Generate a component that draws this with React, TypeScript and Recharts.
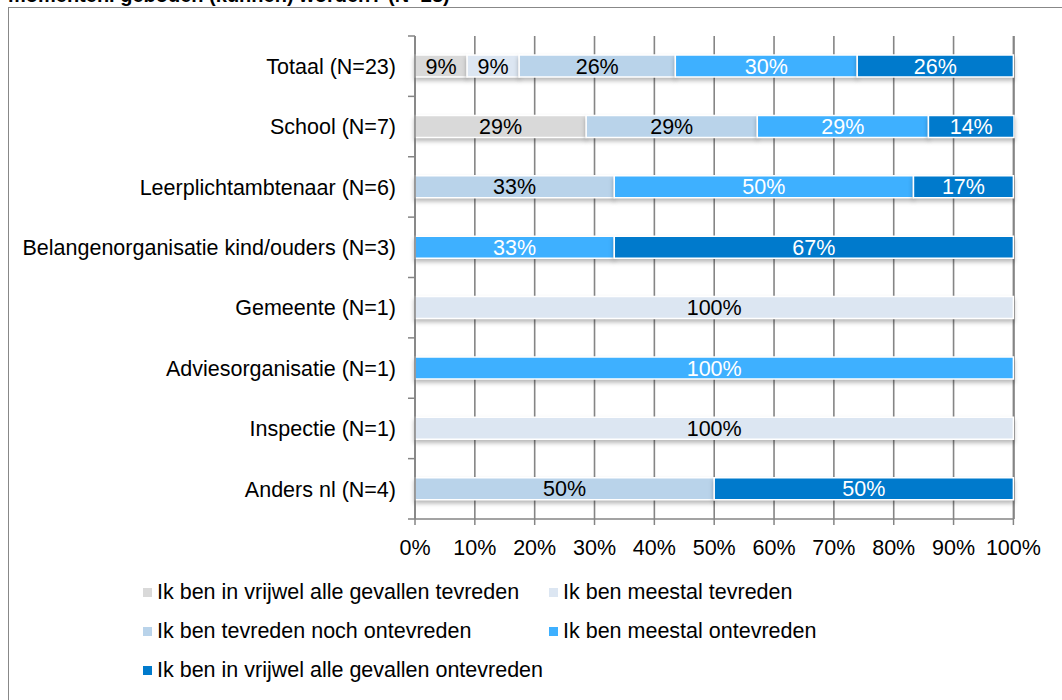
import React from "react";
import {
  BarChart,
  Bar,
  XAxis,
  YAxis,
  CartesianGrid,
  LabelList,
  Rectangle,
} from "recharts";

const categories = [
  "Totaal (N=23)",
  "School (N=7)",
  "Leerplichtambtenaar (N=6)",
  "Belangenorganisatie kind/ouders (N=3)",
  "Gemeente (N=1)",
  "Adviesorganisatie (N=1)",
  "Inspectie (N=1)",
  "Anders nl (N=4)",
];

const seriesNames = [
  "Ik ben in vrijwel alle gevallen tevreden",
  "Ik ben meestal tevreden",
  "Ik ben tevreden noch ontevreden",
  "Ik ben meestal ontevreden",
  "Ik ben in vrijwel alle gevallen ontevreden",
];

const seriesColors = ["#D9D9D9", "#DCE6F2", "#B9D3EA", "#3EB0FF", "#007ACC"];
const labelColors = ["#000", "#000", "#000", "#fff", "#fff"];

const altijdTevreden = [8.7, 28.6, 0, 0, 0, 0, 0, 0];
const meestalTevreden = [8.7, 0, 0, 0, 100, 0, 100, 0];
const neutraal = [26.1, 28.6, 33.3, 0, 0, 0, 0, 50];
const meestalOntevreden = [30.4, 28.6, 50, 33.3, 0, 100, 0, 0];
const altijdOntevreden = [26.1, 14.3, 16.7, 66.7, 0, 0, 0, 50];

const xTicks = [0, 10, 20, 30, 40, 50, 60, 70, 80, 90, 100];

const seriesValues = [
  altijdTevreden,
  meestalTevreden,
  neutraal,
  meestalOntevreden,
  altijdOntevreden,
];

const data = categories.map((name, i) => {
  const row: any = { name };
  seriesValues.forEach((vals, s) => {
    row["s" + s] = vals[i];
  });
  return row;
});

const FONT = "'Liberation Sans', Arial, sans-serif";
const GRID = "#858585";
const FS = 21.5;
const PLOT_H = 483;
const HALF_BAND = PLOT_H / categories.length / 2;

// tick x arrives 8px left of the axis line (tickSize 6 + margin 2)
const CategoryTick = (props: any) => {
  const { x, y, payload, index } = props;
  const last = index === categories.length - 1;
  return (
    <g>
      <line x1={x + 1} x2={x + 8} y1={y - HALF_BAND} y2={y - HALF_BAND} stroke={GRID} strokeWidth={1.5} />
      {last && (
        <line x1={x + 1} x2={x + 8} y1={y + HALF_BAND} y2={y + HALF_BAND} stroke={GRID} strokeWidth={1.5} />
      )}
      <text
        x={x - 11}
        y={y}
        dy="0.36em"
        textAnchor="end"
        fill="#000"
        fontSize={FS}
        fontFamily={FONT}
      >
        {payload.value}
      </text>
    </g>
  );
};

const ShadowBar = (props: any) => (
  <Rectangle
    {...props}
    style={{ filter: "drop-shadow(0px 3px 2px rgba(0,0,0,0.28))" }}
  />
);

const makeLabel = (color: string) => (props: any) => {
  const { x, y, width, height, value } = props;
  if (!value) return null;
  return (
    <text
      x={x + width / 2}
      y={y + height / 2}
      dy="0.36em"
      textAnchor="middle"
      fill={color}
      fontSize={FS}
      fontFamily={FONT}
    >
      {Math.round(value) + "%"}
    </text>
  );
};

export default function App() {
  return (
    <div
      style={{
        position: "absolute",
        left: 0,
        top: 0,
        width: 1062,
        height: 700,
        overflow: "hidden",
        background: "#fff",
        fontFamily: FONT,
      }}
    >
      <div
        style={{
          position: "absolute",
          left: 8,
          top: -15,
          fontSize: 20,
          lineHeight: "20px",
          fontWeight: "bold",
          whiteSpace: "nowrap",
        }}
      >
        momenten. geboden (kunnen) worden? (N=23)
      </div>
      <div
        style={{
          position: "absolute",
          left: 8,
          top: 7,
          width: 1060,
          height: 700,
          borderLeft: "1.5px solid #888",
          borderTop: "1.5px solid #888",
        }}
      />
      <div style={{ position: "absolute", left: 0, top: 0 }}>
        <BarChart
          width={1062}
          height={559}
          data={data}
          layout="vertical"
          margin={{ top: 36, right: 48, bottom: 0, left: 0 }}
          barSize={22}
        >
          <CartesianGrid horizontal={false} stroke={GRID} strokeWidth={1.6} />
          <XAxis
            type="number"
            domain={[0, 100]}
            ticks={xTicks}
            tickFormatter={(v) => v + "%"}
            height={40}
            axisLine={{ stroke: GRID, strokeWidth: 1.6 }}
            tickLine={{ stroke: GRID, strokeWidth: 1.5 }}
            tickSize={6}
            tickMargin={15}
            tick={{ fill: "#000", fontSize: FS, fontFamily: FONT }}
            interval={0}
          />
          <YAxis
            type="category"
            dataKey="name"
            width={415}
            axisLine={{ stroke: GRID, strokeWidth: 1.6 }}
            tickLine={false}
            tick={<CategoryTick />}
            interval={0}
          />
          {seriesNames.map((n, s) => (
            <Bar
              key={n}
              dataKey={"s" + s}
              name={n}
              stackId="a"
              fill={seriesColors[s]}
              stroke="#fff"
              strokeWidth={1.5}
              shape={<ShadowBar />}
              isAnimationActive={false}
            >
              <LabelList dataKey={"s" + s} content={makeLabel(labelColors[s])} />
            </Bar>
          ))}
        </BarChart>
      </div>
      {seriesNames.map((n, s) => (
        <div
          key={n}
          style={{
            position: "absolute",
            left: s % 2 === 0 ? 143 : 549,
            top: 592 + Math.floor(s / 2) * 39 - 12,
            height: 24,
            display: "flex",
            alignItems: "center",
            fontSize: FS,
            whiteSpace: "nowrap",
            color: "#000",
          }}
        >
          <span
            style={{
              display: "inline-block",
              width: 9,
              height: 9,
              background: seriesColors[s],
              marginRight: 5,
            }}
          />
          {n}
        </div>
      ))}
    </div>
  );
}
